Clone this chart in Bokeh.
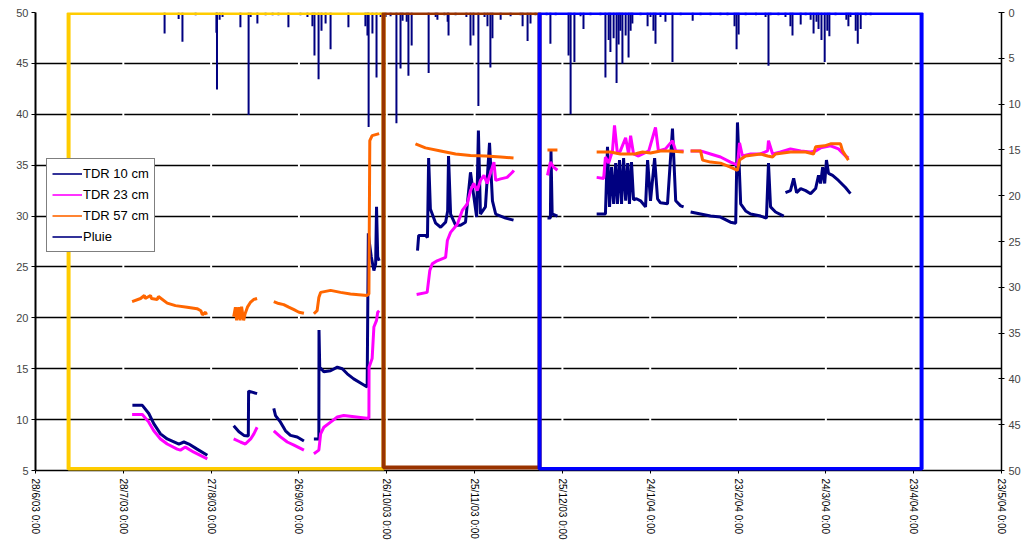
import numpy as np
from bokeh.plotting import figure
from bokeh.models import (Range1d, LinearAxis, FixedTicker, Legend, LegendItem,
                          BoxAnnotation)
from bokeh.embed import file_html
from bokeh.resources import INLINE

nan = float("nan")

# ---------------- axis data ----------------
x_tick_days = [0, 30, 60, 90, 120, 150, 180, 210, 240, 270, 300, 330]
x_tick_labels = ["28/6/03 0:00", "28/7/03 0:00", "27/8/03 0:00", "26/9/03 0:00",
                 "26/10/03 0:00", "25/11/03 0:00", "25/12/03 0:00", "24/1/04 0:00",
                 "23/2/04 0:00", "24/3/04 0:00", "23/4/04 0:00", "23/5/04 0:00"]
left_ticks = [5, 10, 15, 20, 25, 30, 35, 40, 45, 50]
right_ticks = [0, 5, 10, 15, 20, 25, 30, 35, 40, 45, 50]

# ---------------- periods (days since 28/6/03) ----------------
zone_start = [11.3, 118.9, 172.2]
zone_end = [118.9, 172.2, 302.7]

# ---------------- TDR 10 cm ----------------
tdr10_day = [33.1, 36.5, 38.7, 40.4, 42.7, 45.0, 49.0, 50.7, 52.4, 55.2, 58.7, nan,
             67.7, 69.5, 71.2, 72.7, 72.8, 74.0, 75.7, nan,
             81.4, 82.0, 83.7, 85.4, 87.1, 89.4, 91.7, nan,
             95.1, 96.8, 96.85, 97.1, 98.5, 100.8, 103.1, 104.8, 106.5, 108.7, 111.6, 113.3,
             113.7, 114.1, 114.7, 115.6, 116.2, 116.5, 116.9, 117.4, nan,
             130.5, 130.9, 133.2, 133.9, 134.3, 134.9, 136.7, 138.4, 140.1, 140.8, 141.1,
             141.8, 143.5, 145.2, 146.9, 148.6, 149.6, 150.7, 151.3, 152.0, 153.7, 155.1,
             156.1, 157.2, 158.9, 160.6, 163.3, nan,
             174.9, 175.9, 176.1, 176.5, 178.3, nan,
             191.7, 194.7, 195.4, 196.1, 196.8, 197.5, 198.2, 198.8, 199.5, 200.2, 200.9,
             201.6, 202.3, 202.9, 203.6, 204.3, 205.3, 206.7, 208.4, 209.1, 210.1, 211.5,
             212.5, 213.5, 215.9, 217.6, 218.7, 220.4, 221.4, nan,
             223.8, 227.2, 230.6, 234.0, 237.4, 239.2, 239.8, 240.9, 242.6, 244.3, 247.7,
             249.7, 250.4, 251.1, 252.8, 255.6, nan,
             256.2, 257.9, 259.0, 260.0, 261.4, 263.1, 264.8, 266.5, 267.5, 268.2, 268.9,
             269.6, 270.2, 270.9, 272.3, 274.3, 276.7, 278.4]
tdr10_val = [11.4, 11.4, 10.6, 9.6, 8.6, 8.1, 7.6, 7.8, 7.6, 7.1, 6.5, nan,
             9.4, 8.8, 8.45, 8.4, 12.8, 12.7, 12.55, nan,
             11.1, 10.4, 9.75, 8.9, 8.45, 8.3, 7.9, nan,
             8.1, 8.1, 18.8, 15.15, 14.7, 14.8, 15.15, 15.0, 14.5, 14.0, 13.5, 13.2,
             28.3, 27.3, 26.0, 24.65, 25.3, 30.9, 26.0, 25.6, nan,
             26.6, 28.1, 28.1, 27.9, 35.7, 30.7, 29.3, 28.9, 29.4, 30.5, 35.9,
             30.2, 29.1, 29.1, 29.4, 34.3, 32.2, 29.9, 38.4, 30.2, 30.9, 37.2,
             31.5, 30.2, 30.0, 29.8, 29.6, nan,
             29.8, 29.8, 36.4, 30.2, 30.0, nan,
             30.2, 30.2, 36.8, 30.9, 34.8, 31.2, 35.2, 31.2, 35.5, 31.2, 35.7,
             31.5, 35.2, 31.2, 35.3, 31.6, 31.7, 31.5, 30.9, 35.5, 31.5, 35.7,
             31.7, 31.3, 31.2, 38.6, 31.5, 31.0, 30.9, nan,
             30.4, 30.2, 30.0, 29.9, 29.4, 29.3, 39.2, 31.2, 30.5, 30.2, 30.0,
             29.8, 35.2, 30.9, 30.4, 30.0, nan,
             32.3, 32.5, 33.7, 32.3, 32.7, 32.5, 32.2, 32.7, 34.0, 33.2, 34.8,
             33.2, 35.5, 34.2, 34.0, 33.5, 32.8, 32.2]

# ---------------- TDR 23 cm ----------------
tdr23_day = [33.0, 36.5, 38.7, 40.4, 42.7, 45.0, 48.4, 49.5, 51.2, 54.1, 58.7, nan,
             67.7, 70.0, 71.7, 73.5, 74.6, 75.7, nan,
             81.4, 83.7, 86.0, 88.3, 91.7, nan,
             95.1, 96.8, 97.4, 98.5, 100.8, 103.1, 105.3, 113.9, 113.95, 115.0, 115.6,
             116.5, 116.9, 117.4, nan,
             130.2, 133.8, 134.7, 135.5, 137.2, 140.1, 140.7, 141.8, 144.1, 145.8, 147.5,
             148.6, 149.7, 150.9, 152.0, 153.2, 154.3, 156.6, 157.2, 158.9, 161.1, 162.9,
             163.4, nan,
             174.9, 175.9, 177.0, 178.3, nan,
             191.7, 194.1, 194.7, 195.8, 197.1, 197.8, 198.8, 199.8, 201.6, 202.6, 203.3,
             204.3, 206.0, 207.4, 209.5, 211.8, 212.8, 215.2, 217.6, 218.7, 221.4, nan,
             223.8, 227.2, 230.6, 234.0, 237.4, 239.8, 240.5, 241.5, 244.3, 247.7, 250.1,
             250.4, 251.8, 254.5, 257.9, 261.4, 264.8, 266.5, 268.2, 271.6, 274.3, 276.7,
             277.7]
tdr23_val = [10.5, 10.5, 9.75, 8.9, 8.1, 7.6, 7.1, 7.0, 7.3, 6.8, 6.15, nan,
             8.1, 7.8, 7.6, 8.1, 8.6, 9.25, nan,
             8.9, 8.3, 7.8, 7.5, 7.0, nan,
             6.65, 7.0, 8.6, 9.25, 9.75, 10.25, 10.4, 10.1, 15.15, 16.0, 19.1,
             19.75, 20.55, 20.7, nan,
             22.3, 22.5, 24.65, 25.3, 25.6, 25.95, 27.6, 28.4, 29.2, 30.55, 31.2,
             32.5, 33.2, 32.5, 33.5, 34.0, 33.2, 35.3, 33.5, 33.65, 33.8, 34.3,
             34.5, nan,
             34.0, 35.3, 34.8, 34.5, nan,
             33.8, 33.7, 35.8, 35.2, 36.4, 38.9, 36.1, 36.4, 37.7, 36.1, 37.9,
             36.1, 35.9, 36.1, 36.4, 38.7, 36.4, 36.6, 37.4, 36.4, 36.4, nan,
             36.4, 36.4, 36.1, 35.8, 35.3, 35.0, 37.2, 35.9, 36.1, 36.1, 36.4,
             37.4, 36.1, 36.3, 36.6, 36.4, 36.3, 36.4, 36.7, 36.9, 36.6, 35.9,
             35.7]

# ---------------- TDR 57 cm ----------------
tdr57_day = [33.0, 35.9, 37.2, 37.5, 39.3, 39.6, 41.6, 42.0, 45.0, 47.8, 51.8, 55.2,
             56.5, 57.0, 58.1, 58.4, nan,
             67.7, 68.3, 68.7, 69.4, 69.9, 70.4, 71.1, 71.6, 72.4, 73.5, 74.5, 75.7, nan,
             81.4, 83.1, 84.8, 86.5, 88.3, 90.0, 91.7, nan,
             95.1, 96.2, 96.8, 97.4, 100.8, 104.2, 107.6, 113.3, 113.9, 114.2, 115.0,
             117.4, nan,
             129.8, 133.2, 138.4, 143.5, 148.6, 153.7, 158.9, 163.3, nan,
             174.9, 178.3, nan,
             191.7, 196.4, 199.8, 204.9, 206.0, 207.4, 210.1, 213.5, 216.9, 221.4, nan,
             223.8, 227.2, 227.9, 230.6, 234.0, 237.4, 239.8, 240.5, 242.6, 247.7, 250.1,
             251.8, 252.8, 257.9, 263.1, 265.8, 266.5, 269.6, 271.6, 275.0, 275.7, 277.7]
tdr57_val = [21.6, 21.9, 22.2, 21.9, 22.2, 21.9, 21.8, 22.1, 21.45, 21.2, 21.05, 20.9,
             20.7, 20.3, 20.55, 20.3, nan,
             20.1, 21.05, 19.75, 21.05, 19.75, 21.1, 19.75, 20.4, 21.05, 21.55, 21.8, 21.9, nan,
             21.6, 21.4, 21.3, 21.05, 20.8, 20.55, 20.45, nan,
             20.4, 20.7, 22.0, 22.5, 22.7, 22.5, 22.35, 22.2, 22.35, 37.4, 37.9,
             38.1, nan,
             37.1, 36.7, 36.4, 36.1, 35.95, 35.9, 35.8, 35.7, nan,
             36.5, 36.5, nan,
             36.3, 36.3, 36.1, 36.1, 36.2, 36.3, 36.2, 36.4, 36.4, 36.3, nan,
             36.4, 36.4, 35.5, 35.3, 35.2, 34.8, 34.5, 35.5, 35.9, 36.1, 35.9,
             35.8, 36.1, 36.3, 36.3, 36.1, 36.8, 36.9, 37.1, 37.1, 36.4, 35.5]

# ---------------- Pluie (rain, right axis, reversed) ----------------
pluie_day = [44.1, 48.9, 50.2, 54.7, 61.8, 62.0, 62.9, 63.9, 70.0, 72.8, 73.5, 75.8,
             78.6, 81.0, 83.0, 86.4, 90.5, 92.9, 94.6, 95.3, 96.7, 97.7, 99.1, 100.8,
             106.9, 112.7, 113.4, 113.8, 115.1, 116.5, 117.9, 119.6, 121.3, 123.3, 124.7,
             125.4, 126.8, 127.4, 128.5, 134.3, 136.7, 137.3, 139.7, 140.8, 141.1, 143.5,
             147.2, 148.6, 149.6, 151.3, 153.4, 154.4, 155.4, 156.1, 158.9, 162.3, 165.7,
             166.4, 168.1, 169.1, 170.8, 174.6, 175.9, 177.7, 182.1, 182.8, 184.1, 186.2,
             187.2, 189.6, 193.0, 194.7, 195.8, 196.4, 197.5, 198.5, 199.2, 199.8, 200.5,
             201.6, 202.6, 203.3, 203.9, 206.7, 209.1, 210.1, 211.1, 211.8, 213.5, 215.2,
             217.6, 220.4, 224.5, 227.2, 230.6, 234.0, 236.4, 238.8, 239.5, 240.2, 242.6,
             246.1, 249.4, 250.4, 251.1, 253.8, 256.2, 257.9, 258.6, 261.4, 263.1, 264.8,
             265.8, 266.8, 267.5, 268.5, 269.6, 270.5, 271.2, 273.3, 277.0, 277.7, 278.4,
             280.2, 280.9, 281.9, 283.6, 285.3]
pluie_mm = [2.3, 0.7, 3.2, 0.3, 2.2, 8.4, 0.8, 0.5, 1.6, 11.2, 0.5, 1.2,
            0.3, 0.3, 0.3, 1.6, 0.3, 0.5, 1.5, 4.7, 7.3, 2.0, 1.2, 4.0,
            1.6, 1.5, 2.5, 12.5, 2.3, 7.1, 0.5, 0.5, 0.4, 12.1, 6.1,
            0.9, 1.0, 6.9, 3.6, 6.6, 0.5, 0.8, 0.3, 1.0, 2.5, 0.3,
            0.5, 3.6, 2.5, 10.2, 0.5, 1.5, 6.0, 2.8, 0.8, 0.4, 0.3,
            1.5, 3.1, 1.2, 0.3, 0.3, 3.4, 0.3, 4.7, 11.1, 5.4, 0.4,
            1.8, 0.3, 0.3, 7.1, 3.0, 4.3, 2.8, 7.7, 3.5, 2.0, 5.6,
            2.5, 4.9, 2.0, 1.2, 0.3, 1.5, 0.5, 2.0, 3.4, 0.5, 1.0,
            5.4, 0.3, 0.9, 0.3, 0.3, 0.3, 0.3, 1.5, 4.0, 2.4, 0.3,
            0.3, 0.5, 5.8, 0.3, 0.3, 0.5, 1.5, 2.5, 1.3, 0.3, 0.8,
            2.3, 1.0, 1.8, 3.0, 5.4, 2.0, 2.6, 0.3, 0.8, 1.5, 0.5,
            2.0, 3.4, 1.8, 0.3, 0.3]

series_names = ["TDR 10 cm", "TDR 23 cm", "TDR 57 cm", "Pluie"]

# ---------------- figure ----------------
FONT = "Liberation Sans"
NAVY = "#000080"
series_colors = [NAVY, "#FF00FF", "#FF6600", NAVY]

p = figure(width=1026, height=546, output_backend="svg", toolbar_location=None,
           x_range=Range1d(0, 330), y_range=Range1d(5, 50),
           min_border_left=35, min_border_right=25, min_border_top=12,
           min_border_bottom=76)
p.outline_line_color = None
p.background_fill_color = "white"
p.border_fill_color = "white"
p.extra_y_ranges = {"pluie": Range1d(start=50, end=0)}

p.xgrid.visible = False
p.ygrid.ticker = FixedTicker(ticks=left_ticks)
p.ygrid.grid_line_color = "black"
p.ygrid.grid_line_width = 1.4

# bottom axis
xa = p.xaxis[0]
xa.ticker = FixedTicker(ticks=x_tick_days)
xa.major_label_overrides = {d: lab for d, lab in zip(x_tick_days, x_tick_labels)}
xa.major_label_orientation = "vertical"
xa.major_label_text_font = FONT
xa.major_label_text_font_size = "10px"
xa.major_label_text_color = "black"
xa.major_tick_out = 3
xa.major_tick_in = 0
xa.minor_tick_line_color = None
xa.axis_line_width = 1.5
xa.major_label_standoff = 5

# left axis
ya = p.yaxis[0]
ya.ticker = FixedTicker(ticks=left_ticks)
ya.major_label_text_font = FONT
ya.major_label_text_font_size = "11px"
ya.major_tick_out = 4
ya.major_tick_in = 0
ya.minor_tick_line_color = None
ya.axis_line_width = 2
ya.major_label_standoff = 3

# right axis (rain, reversed)
ra = LinearAxis(y_range_name="pluie", ticker=FixedTicker(ticks=right_ticks))
ra.major_label_text_font = FONT
ra.major_label_text_font_size = "11px"
ra.major_tick_out = 3
ra.major_tick_in = 3
ra.minor_tick_line_color = None
ra.axis_line_width = 1.5
ra.major_label_standoff = 4
p.add_layout(ra, "right")

# white breaks in the horizontal grid at the date ticks
p.segment(x0=x_tick_days[1:-1], y0=[5.4] * (len(x_tick_days) - 2),
          x1=x_tick_days[1:-1], y1=[49.8] * (len(x_tick_days) - 2),
          line_color="white", line_width=2)

p.line(np.array(tdr10_day), np.array(tdr10_val), line_color=series_colors[0], line_width=3)
p.line(np.array(tdr23_day), np.array(tdr23_val), line_color=series_colors[1], line_width=3)
p.line(np.array(tdr57_day), np.array(tdr57_val), line_color=series_colors[2], line_width=3)
p.segment(x0=pluie_day, y0=[0] * len(pluie_day), x1=pluie_day, y1=pluie_mm,
          y_range_name="pluie", line_color=series_colors[3], line_width=2)

# thin line samples for the legend (a single undefined point: nothing drawn in the plot)
legend_items = []
for name, col in zip(series_names, series_colors):
    r = p.line(x=np.array([nan]), y=np.array([nan]), line_color=col, line_width=1.6)
    legend_items.append(LegendItem(label=name, renderers=[r], index=0))

legend = Legend(items=legend_items,
                location=(11, 218), orientation="vertical",
                label_text_font=FONT, label_text_font_size="13px",
                label_text_color="black",
                glyph_width=30, glyph_height=19, label_height=19, label_standoff=1,
                padding=5, spacing=2, margin=0,
                border_line_color="black", border_line_width=1,
                background_fill_color="white", background_fill_alpha=1)
p.add_layout(legend, "center")

zone_colors = ["#FFCC00", "#993300", "#0000FF"]
zone_bottoms = [5.15, 5.3, 5.15]
for x0, x1, col, b in zip(zone_start, zone_end, zone_colors, zone_bottoms):
    p.add_layout(BoxAnnotation(left=x0, right=x1, bottom=b, top=49.95,
                               fill_color=None, fill_alpha=0,
                               line_color=col, line_width=4, line_alpha=1))

open("out.html", "w").write(file_html(p, INLINE))
